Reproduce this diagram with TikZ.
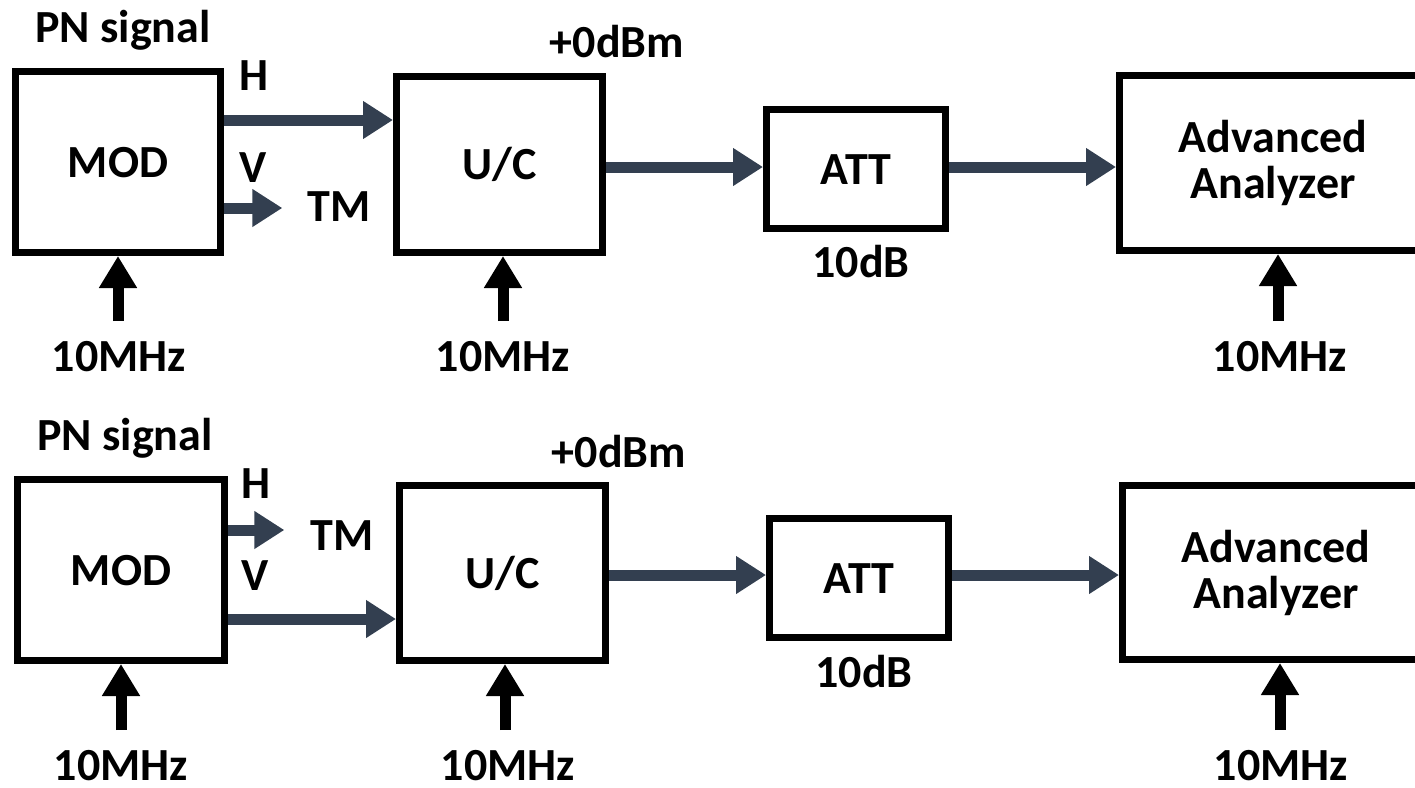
\documentclass[tikz,border=0pt]{standalone}
\usepackage{fontspec}
\setmainfont{Carlito}
\usetikzlibrary{arrows.meta}
\definecolor{sigc}{RGB}{51,63,80}
\tikzset{
  txt/.style={font=\fontsize{46pt}{46pt}\selectfont\bfseries},
  lbl/.style={txt, inner sep=0pt, anchor=base},
  blk/.style={txt, draw=black, line width=7pt, inner sep=0pt, text height=30pt, text depth=0pt},
  blkml/.style={txt, draw=black, line width=7pt, inner sep=0pt, align=center},
  sig/.style={draw=sigc, line width=11pt, -{Triangle[length=30pt,width=36pt]}},
  clk/.style={draw=black, line width=11pt, -{Triangle[length=32pt,width=36pt]}},
}
\begin{document}
\begin{tikzpicture}[x=1pt,y=-1pt]
\useasboundingbox (0,0) rectangle (1415,787);
\clip (0,0) rectangle (1415,787);

% ---------- upper chain: H to up-converter, V terminated ----------
\node[blk, minimum width=205pt, minimum height=181pt] (mod1) at (118,162) {MOD};
\node[blk, minimum width=206pt, minimum height=176pt] (uc1) at (499.5,164.5) {U/C};
\node[blk, minimum width=179pt, minimum height=119pt] (att1) at (856,169) {ATT};
\node[blkml, minimum width=307pt, minimum height=175pt] (adv1) at (1273,163) {Advanced\\Analyzer};

\node[lbl] (pn1) at (123,42) {PN signal};
\node[lbl] (h1) at (254,90) {H};
\node[lbl] (v1) at (253,182) {V};
\node[lbl] (tm1) at (339,221) {TM};
\node[lbl] (p1) at (617,57) {+0dBm};
\node[lbl] (db1) at (861,277) {10dB};
\node[lbl] (fa1) at (119,371) {10MHz};
\node[lbl] (fb1) at (503,371) {10MHz};
\node[lbl] (fc1) at (1280,371) {10MHz};

\draw[sig] (mod1.east |- 0,120) -- (uc1.west |- 0,120);
\draw[sig] (mod1.east |- 0,208) -- ([xshift=-25pt]tm1.west |- 0,208);
\draw[sig] (uc1.east |- 0,167) -- (att1.west |- 0,167);
\draw[sig] (att1.east |- 0,167) -- (adv1.west |- 0,167);

\coordinate (ca1) at (118,321);
\coordinate (cb1) at (503,321);
\coordinate (cc1) at (1278,321);
\draw[clk] (ca1) -- (ca1 |- mod1.south);
\draw[clk] (cb1) -- (cb1 |- uc1.south);
\draw[clk] (cc1) -- (cc1 |- adv1.south);

% ---------- lower chain: V to up-converter, H terminated ----------
\node[blk, minimum width=207pt, minimum height=181pt] (mod2) at (121,570) {MOD};
\node[blk, minimum width=206pt, minimum height=175pt] (uc2) at (502.5,573) {U/C};
\node[blk, minimum width=179pt, minimum height=119pt] (att2) at (859,578) {ATT};
\node[blkml, minimum width=307pt, minimum height=174pt] (adv2) at (1276,572.5) {Advanced\\Analyzer};

\node[lbl] (pn2) at (125,450) {PN signal};
\node[lbl] (h2) at (256,498) {H};
\node[lbl] (v2) at (255,590) {V};
\node[lbl] (tm2) at (342,550) {TM};
\node[lbl] (p2) at (619,467) {+0dBm};
\node[lbl] (db2) at (864,687) {10dB};
\node[lbl] (fa2) at (121,780) {10MHz};
\node[lbl] (fb2) at (508,780) {10MHz};
\node[lbl] (fc2) at (1281,780) {10MHz};

\draw[sig] (mod2.east |- 0,530) -- ([xshift=-26pt]tm2.west |- 0,530);
\draw[sig] (mod2.east |- 0,619) -- (uc2.west |- 0,619);
\draw[sig] (uc2.east |- 0,575) -- (att2.west |- 0,575);
\draw[sig] (att2.east |- 0,575) -- (adv2.west |- 0,575);

\coordinate (ca2) at (121,730);
\coordinate (cb2) at (505,730);
\coordinate (cc2) at (1280,730);
\draw[clk] (ca2) -- (ca2 |- mod2.south);
\draw[clk] (cb2) -- (cb2 |- uc2.south);
\draw[clk] (cc2) -- (cc2 |- adv2.south);
\end{tikzpicture}
\end{document}
